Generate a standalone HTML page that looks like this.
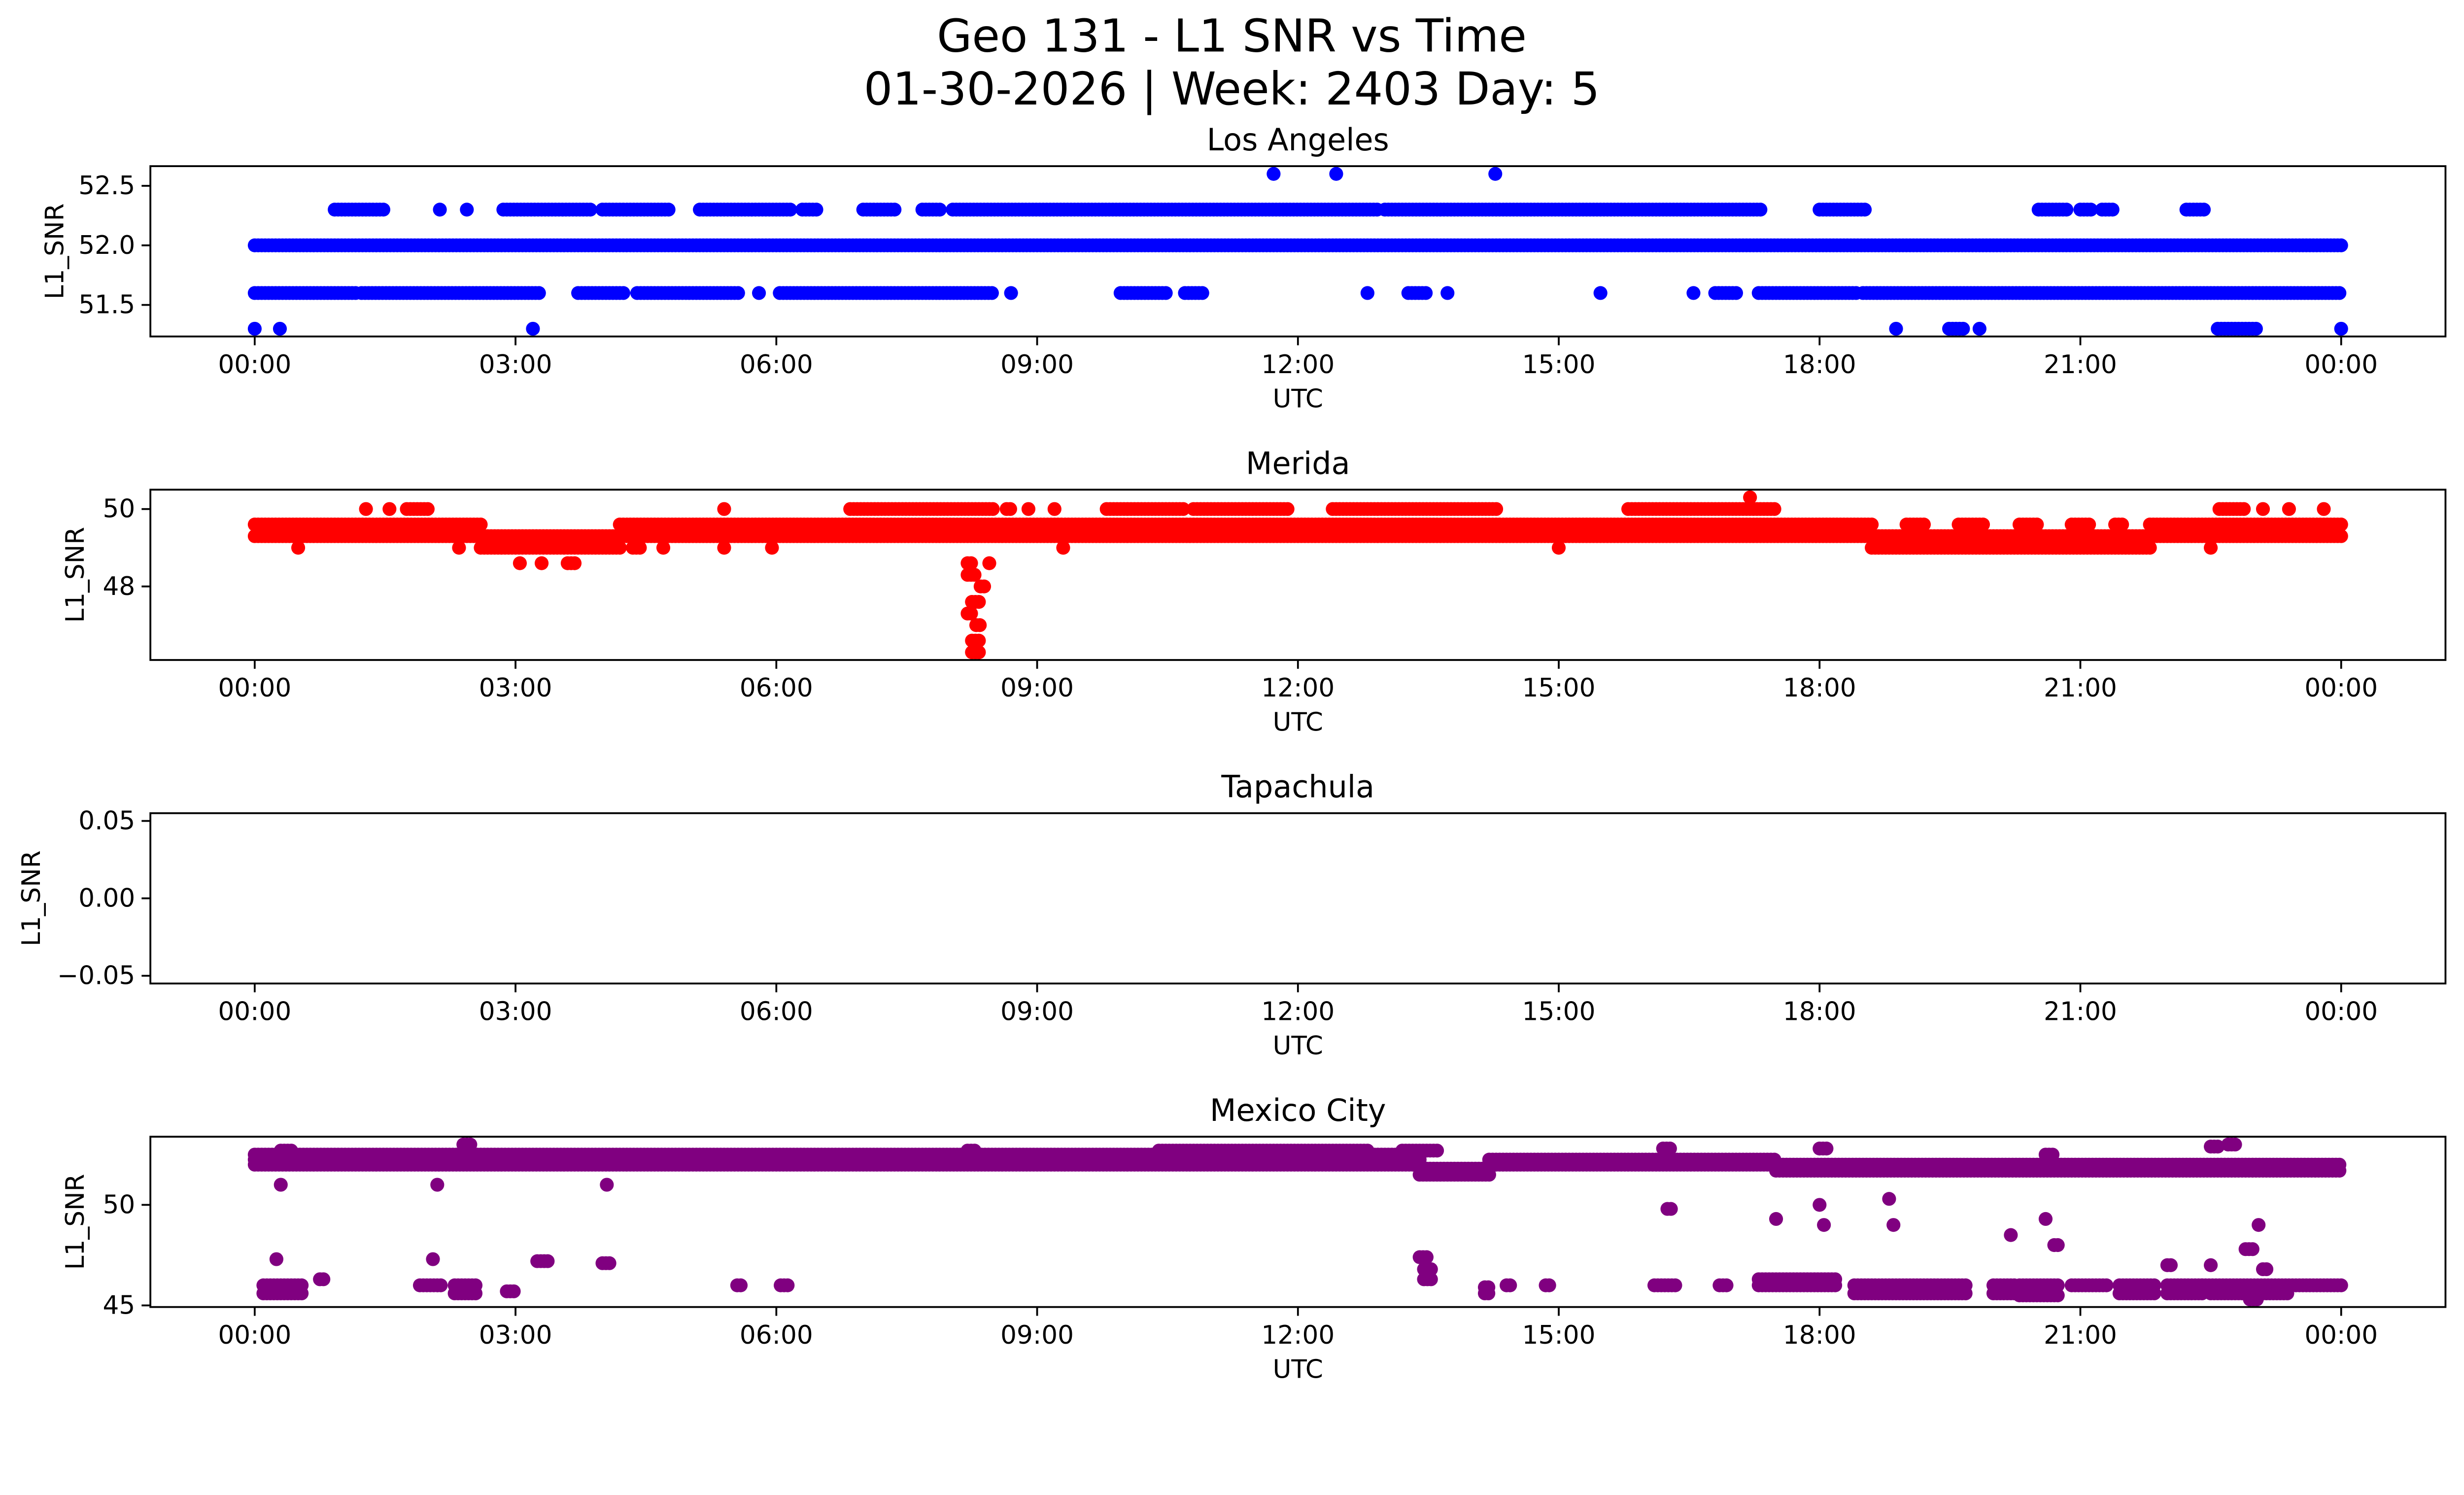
<!DOCTYPE html>
<html><head><meta charset="utf-8"><style>
html,body{margin:0;padding:0;background:#fff;overflow:hidden;}
svg{display:block;position:absolute;left:0;top:0;width:100vw;height:56.958vw;font-family:"DejaVu Sans","Liberation Sans",sans-serif;}
</style></head><body>
<svg id="fig" xmlns="http://www.w3.org/2000/svg" viewBox="0 0 5325 3033" preserveAspectRatio="none">
<rect width="5325" height="3033" fill="#fff"/>
<text x="2662" y="78" font-size="98" text-anchor="middle" dominant-baseline="central">Geo 131 - L1 SNR vs Time</text>
<text x="2662" y="192" font-size="98" text-anchor="middle" dominant-baseline="central">01-30-2026 | Week: 2403 Day: 5</text>
</svg>
<script>
// ---- data (hours UTC, SNR) as runs [startHour, endHour, value] ----
const panelTitles = ["Los Angeles","Merida","Tapachula","Mexico City"];
const panelColors = ["#0000ff","#ff0000","#0000ff","#800080"];
const xTickHours = [0,3,6,9,12,15,18,21,24];
const xTickLabels = ["00:00","03:00","06:00","09:00","12:00","15:00","18:00","21:00","00:00"];
const yLimits = [[51.235,52.665],[46.1,50.5],[-0.055,0.055],[44.92,53.39]];
const yTicks = [[51.5,52.0,52.5],[48,50],[-0.05,0,0.05],[45,50]];
const yTickLabels = [["51.5","52.0","52.5"],["48","50"],["\u22120.05","0.00","0.05"],["45","50"]];

const laRuns = [
 [0,24,52.0],
 [0,1.16,51.6],[1.23,3.27,51.6],[3.72,4.27,51.6],[4.4,5.57,51.6],[5.8,5.8,51.6],[6.04,8.5,51.6],[8.7,8.7,51.6],
 [9.96,10.5,51.6],[10.7,10.9,51.6],[12.8,12.8,51.6],[13.27,13.5,51.6],[13.72,13.72,51.6],[15.48,15.48,51.6],
 [16.55,16.55,51.6],[16.8,17.05,51.6],[17.3,18.45,51.6],[18.5,24,51.6],
 [0.92,1.48,52.3],[2.13,2.13,52.3],[2.44,2.44,52.3],[2.86,3.87,52.3],[4.0,4.77,52.3],[5.12,6.17,52.3],[6.3,6.47,52.3],
 [7.0,7.38,52.3],[7.68,7.9,52.3],[8.03,12.93,52.3],[13.0,17.32,52.3],[18.0,18.52,52.3],[20.52,20.87,52.3],
 [21.0,21.12,52.3],[21.25,21.37,52.3],[22.22,22.44,52.3],
 [11.72,11.72,52.6],[12.44,12.44,52.6],[14.27,14.27,52.6],
 [0,0,51.3],[0.29,0.29,51.3],[3.2,3.2,51.3],[18.88,18.88,51.3],[19.49,19.67,51.3],[19.84,19.84,51.3],[22.58,23.04,51.3],[24,24,51.3]
];
const meridaRuns = [
 [0,24,49.3],
 [0,2.6,49.6],[4.2,18.6,49.6],[19.0,19.2,49.6],[19.6,19.9,49.6],[20.3,20.5,49.6],[20.9,21.1,49.6],[21.4,21.5,49.6],[21.8,24,49.6],
 [2.6,4.2,49.0],[18.6,21.8,49.0],
 [0.5,0.5,49.0],[2.35,2.35,49.0],[4.35,4.45,49.0],[4.7,4.7,49.0],[5.4,5.4,49.0],[5.95,5.95,49.0],[9.3,9.3,49.0],[15.0,15.0,49.0],[22.5,22.5,49.0],
 [1.28,1.28,50.0],[1.55,1.55,50.0],[1.75,2.0,50.0],[5.4,5.4,50.0],[6.85,8.5,50.0],[8.65,8.7,50.0],[8.9,8.9,50.0],[9.2,9.2,50.0],
 [9.8,10.7,50.0],[10.8,11.9,50.0],[12.4,14.3,50.0],[15.8,17.5,50.0],[22.6,22.9,50.0],[23.1,23.1,50.0],[23.4,23.4,50.0],[23.8,23.8,50.0],
 [17.2,17.2,50.3],
 [3.05,3.05,48.6],[3.3,3.3,48.6],[3.6,3.7,48.6],
 [8.2,8.25,48.6],[8.45,8.45,48.6],[8.2,8.3,48.3],[8.35,8.4,48.0],[8.25,8.35,47.6],[8.2,8.25,47.3],[8.3,8.35,47.0],[8.25,8.35,46.6],[8.25,8.35,46.3]
];
const tapachulaRuns = [];
const mexicoRuns = [
 [0,13.4,52.0],[0,13.4,52.25],[0,13.4,52.5],
 [13.4,14.2,51.5],[13.4,14.2,51.8],[14.2,17.5,52.0],[14.2,17.5,52.25],[17.5,24,51.7],[17.5,24,52.0],
 [0.3,0.45,52.7],[2.4,2.5,53.0],[8.2,8.3,52.7],[10.4,12.8,52.7],[13.2,13.6,52.7],[16.2,16.3,52.8],[18.0,18.1,52.8],
 [20.6,20.7,52.5],[22.5,22.6,52.9],[22.7,22.8,53.0],
 [0.3,0.3,51.0],[2.1,2.1,51.0],[4.05,4.05,51.0],[16.25,16.3,49.8],[17.5,17.5,49.3],[18.0,18.0,50.0],[18.05,18.05,49.0],
 [18.8,18.8,50.3],[18.85,18.85,49.0],[20.2,20.2,48.5],[20.6,20.6,49.3],[20.7,20.75,48.0],[22.9,23.0,47.8],[23.05,23.05,49.0],
 [0.25,0.25,47.3],[2.05,2.05,47.3],[3.25,3.4,47.2],[4.0,4.1,47.1],[13.4,13.5,47.4],[13.45,13.55,46.8],[22.0,22.05,47.0],[22.5,22.5,47.0],[23.1,23.15,46.8],
 [0.1,0.55,46.0],[0.1,0.55,45.6],[0.75,0.8,46.3],[1.9,2.15,46.0],[2.3,2.55,46.0],[2.3,2.55,45.6],[2.9,3.0,45.7],
 [5.55,5.6,46.0],[6.05,6.15,46.0],[13.45,13.55,46.3],[14.15,14.2,45.6],[14.15,14.2,45.9],[14.4,14.45,46.0],[14.85,14.9,46.0],
 [16.1,16.35,46.0],[16.85,16.95,46.0],[17.3,18.2,46.0],[17.3,18.2,46.3],[18.4,19.7,45.6],[18.4,19.7,46.0],
 [20.0,20.25,45.6],[20.0,20.25,46.0],[20.3,20.75,45.5],[20.3,20.75,46.0],[20.9,21.3,46.0],[21.45,21.85,45.6],[21.45,21.85,46.0],
 [22.0,22.4,45.6],[22.0,22.4,46.0],[22.4,24.0,46.0],[22.5,23.4,45.6],[22.95,23.05,45.3]
];
const panelRuns = [laRuns, meridaRuns, tapachulaRuns, mexicoRuns];
const panelNames = ["los-angeles","merida","tapachula","mexico-city"];

// ---- layout ----
const NS = "http://www.w3.org/2000/svg";
const svg = document.getElementById("fig");
const X0 = 325, X1 = 5285, XMIN = -1.2, XMAX = 25.2;
const TOPS = [359, 1058, 1757, 2456], H = 368;
const YLABEL_X = [119, 163, 68, 163];
const STEP = 0.04, R = 15;
function xScale(h){ return X0 + (h - XMIN) / (XMAX - XMIN) * (X1 - X0); }
function yScaleFor(i){ const lo=yLimits[i][0], hi=yLimits[i][1], t=TOPS[i];
  return v => t + H - (v - lo) / (hi - lo) * H; }
function mk(tag, attrs, parent){ const e=document.createElementNS(NS,tag); for(const k in attrs) e.setAttribute(k, attrs[k]); (parent||svg).appendChild(e); return e; }

for (let i=0;i<4;i++){
  const y = yScaleFor(i), top = TOPS[i], bot = TOPS[i]+H;
  const g = mk("g",{});
  
  
  const clipId = "clip"+i;
  const cp = mk("clipPath",{id:clipId}, g); mk("rect",{x:X0,y:top,width:X1-X0,height:H},cp);
  const pts = mk("g",{"clip-path":"url(#"+clipId+")",fill:panelColors[i]}, g);
  
  
  panelRuns[i].forEach(run => {
    const a=run[0], b=run[1], v=run[2];
    for (let h=a; h<=b+1e-9; h+=STEP){
      const c = mk("ellipse",{cx:xScale(h).toFixed(1),cy:y(v).toFixed(1),rx:R,ry:R}, pts);
      
      
    }
  });
  const frame = mk("rect",{x:X0,y:top,width:X1-X0,height:H,fill:"none",stroke:"#000","stroke-width":4}, g);
  
  
  xTickHours.forEach((hh,k) => {
    const xx = xScale(hh);
    const tk = mk("line",{x1:xx,x2:xx,y1:bot,y2:bot+19,stroke:"#000","stroke-width":4}, g);
    
    
    const tl = mk("text",{x:xx,y:bot+61,"font-size":55,"text-anchor":"middle","dominant-baseline":"central"}, g);
    tl.textContent = xTickLabels[k];
    
    
  });
  yTicks[i].forEach((v,k) => {
    const yy = y(v);
    const tk = mk("line",{x1:X0-19,x2:X0,y1:yy,y2:yy,stroke:"#000","stroke-width":4}, g);
    
    
    const tl = mk("text",{x:X0-33,y:yy,"font-size":55,"text-anchor":"end","dominant-baseline":"central"}, g);
    tl.textContent = yTickLabels[i][k];
    
    
  });
  const xl = mk("text",{x:(X0+X1)/2,y:bot+135,"font-size":55,"text-anchor":"middle","dominant-baseline":"central"}, g);
  xl.textContent = "UTC";
  
  
  const yl = mk("text",{x:YLABEL_X[i],y:top+H/2,"font-size":55,"text-anchor":"middle","dominant-baseline":"central",transform:"rotate(-90 "+YLABEL_X[i]+" "+(top+H/2)+")"}, g);
  yl.textContent = "L1_SNR";
  
  
  const st = mk("text",{x:(X0+X1)/2,y:top-57,"font-size":66,"text-anchor":"middle","dominant-baseline":"central"}, g);
  st.textContent = panelTitles[i];
  
  
}
</script>
</body></html>
